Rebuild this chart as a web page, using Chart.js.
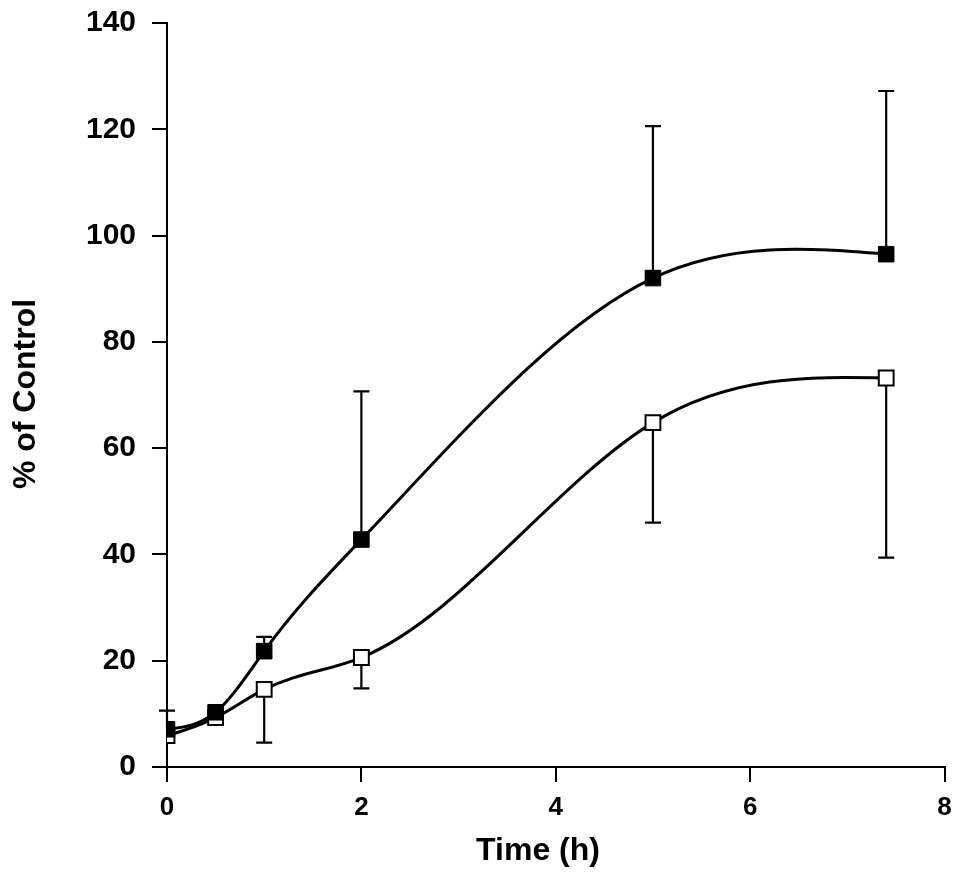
<!DOCTYPE html>
<html>
<head>
<meta charset="utf-8">
<script src="https://cdn.jsdelivr.net/npm/chart.js@4.4.1/dist/chart.umd.min.js"></script>
<style>
html,body{margin:0;padding:0;background:#fff;}
#wrap{width:957px;height:873px;position:relative;}
</style>
</head>
<body>
<div id="wrap"><canvas id="c"></canvas></div>
<script>
// ---- data ----
const times        = [0, 0.5, 1, 2, 5, 7.4];
const filledMean   = [7.1, 10.3, 21.8, 42.8, 92.0, 96.5];
const filledErrUp  = [3.5, 0, 2.7, 27.9, 28.6, 30.7];
const openMean     = [5.9, 9.3, 14.6, 20.6, 64.8, 73.2];
const openErrDown  = [0, 0, 10.0, 5.8, 18.8, 33.8];
const xTickValues  = [0, 2, 4, 6, 8];
const yTickValues  = [0, 20, 40, 60, 80, 100, 120, 140];
const xTitle = 'Time (h)';
const yTitle = '% of Control';

const FONT = '"Liberation Sans", Arial, Helvetica, sans-serif';

const toPts = (ys) => times.map((t, i) => ({x: t, y: ys[i]}));

// error bars drawn through the chart scales
const errorBars = {
  id: 'errorBars',
  beforeDatasetsDraw(chart) {
    const {ctx, scales: {x, y}} = chart;
    ctx.save();
    ctx.strokeStyle = '#000';
    ctx.lineWidth = 2.2;
    chart.data.datasets.forEach(ds => {
      ds.data.forEach((p, i) => {
        const e = ds.errors[i];
        if (!e) return;
        const px = x.getPixelForValue(p.x);
        const y0 = y.getPixelForValue(p.y);
        const y1 = y.getPixelForValue(p.y + ds.errDir * e);
        ctx.beginPath();
        ctx.moveTo(px, y0); ctx.lineTo(px, y1);
        ctx.moveTo(px - 8, y1); ctx.lineTo(px + 8, y1);
        ctx.stroke();
      });
    });
    ctx.restore();
  }
};

// natural cubic spline control points for the Chart.js line element
const naturalSpline = {
  id: 'naturalSpline',
  beforeDatasetDraw(chart, args) {
    const meta = args.meta;
    const line = meta.dataset;
    const pts = meta.data;
    if (!line || pts.length < 3) return;
    line.updateControlPoints(chart.chartArea, 'x');
    const n = pts.length;
    const X = pts.map(p => p.x), Y = pts.map(p => p.y);
    const h = [];
    for (let i = 0; i < n - 1; i++) h.push(X[i + 1] - X[i]);
    const M = new Array(n).fill(0);
    const a = [], b = [], c = [], d = [];
    for (let i = 1; i < n - 1; i++) {
      a.push(h[i - 1]);
      b.push(2 * (h[i - 1] + h[i]));
      c.push(h[i]);
      d.push(6 * ((Y[i + 1] - Y[i]) / h[i] - (Y[i] - Y[i - 1]) / h[i - 1]));
    }
    const m = b.length;
    for (let i = 1; i < m; i++) {
      const w = a[i] / b[i - 1];
      b[i] -= w * c[i - 1];
      d[i] -= w * d[i - 1];
    }
    const sol = new Array(m);
    sol[m - 1] = d[m - 1] / b[m - 1];
    for (let i = m - 2; i >= 0; i--) sol[i] = (d[i] - c[i] * sol[i + 1]) / b[i];
    for (let i = 0; i < m; i++) M[i + 1] = sol[i];
    const slope = new Array(n);
    for (let i = 0; i < n - 1; i++) {
      slope[i] = (Y[i + 1] - Y[i]) / h[i] - h[i] * (2 * M[i] + M[i + 1]) / 6;
    }
    const k = n - 2;
    slope[n - 1] = (Y[n - 1] - Y[k]) / h[k] + h[k] * (M[k] + 2 * M[n - 1]) / 6;
    for (let i = 0; i < n - 1; i++) {
      pts[i].cp2x = X[i] + h[i] / 3;
      pts[i].cp2y = Y[i] + slope[i] * h[i] / 3;
      pts[i + 1].cp1x = X[i + 1] - h[i] / 3;
      pts[i + 1].cp1y = Y[i + 1] - slope[i + 1] * h[i] / 3;
    }
    pts[0].cp1x = X[0]; pts[0].cp1y = Y[0];
    pts[n - 1].cp2x = X[n - 1]; pts[n - 1].cp2y = Y[n - 1];
  }
};

const axisTitles = {
  id: 'axisTitles',
  afterDraw(chart) {
    const {ctx} = chart;
    ctx.save();
    ctx.fillStyle = '#000';
    ctx.font = 'bold 32px ' + FONT;
    ctx.textAlign = 'center';
    ctx.textBaseline = 'alphabetic';
    ctx.fillText(xTitle, 538, 860);
    ctx.translate(35, 394);
    ctx.rotate(-Math.PI / 2);
    ctx.fillText(yTitle, 0, 0);
    ctx.restore();
  }
};

new Chart(document.getElementById('c'), {
  type: 'line',
  data: {
    datasets: [
      {
        label: 'filled',
        data: toPts(filledMean),
        errors: filledErrUp,
        errDir: 1,
        borderColor: '#000',
        borderWidth: 3,
        pointStyle: 'rect',
        pointRadius: 11,
        pointBackgroundColor: '#000',
        pointBorderColor: '#000',
        pointBorderWidth: 1,
        tension: 0.4,
        fill: false
      },
      {
        label: 'open',
        data: toPts(openMean),
        errors: openErrDown,
        errDir: -1,
        borderColor: '#000',
        borderWidth: 3,
        pointStyle: 'rect',
        pointRadius: 10.5,
        pointBackgroundColor: '#fff',
        pointBorderColor: '#000',
        pointBorderWidth: 2,
        tension: 0.4,
        fill: false
      }
    ]
  },
  options: {
    responsive: true,
    maintainAspectRatio: false,
    animation: false,
    layout: {padding: {top: 23, right: 10, left: 0, bottom: 0}},
    plugins: {legend: {display: false}, tooltip: {enabled: false}},
    scales: {
      x: {
        type: 'linear',
        min: 0, max: 8,
        afterFit: s => { s.height = 106; s.paddingLeft = 0; s.paddingRight = 0; },
        afterBuildTicks: s => { s.ticks = xTickValues.map(v => ({value: v})); },
        grid: {drawOnChartArea: false, drawTicks: true, tickLength: 15, color: '#000', lineWidth: 2},
        border: {display: true, color: '#000', width: 2},
        ticks: {color: '#000', padding: 10, font: {family: FONT, size: 26, weight: 'bold'}}
      },
      y: {
        type: 'linear',
        min: 0, max: 140,
        afterFit: s => { s.width = 167; s.paddingTop = 0; s.paddingBottom = 0; },
        afterBuildTicks: s => { s.ticks = yTickValues.map(v => ({value: v})); },
        grid: {drawOnChartArea: false, drawTicks: true, tickLength: 15, color: '#000', lineWidth: 2},
        border: {display: true, color: '#000', width: 2},
        ticks: {color: '#000', padding: 16, font: {family: FONT, size: 30, weight: 'bold'}}
      }
    }
  },
  plugins: [errorBars, naturalSpline, axisTitles]
});
</script>
</body>
</html>
